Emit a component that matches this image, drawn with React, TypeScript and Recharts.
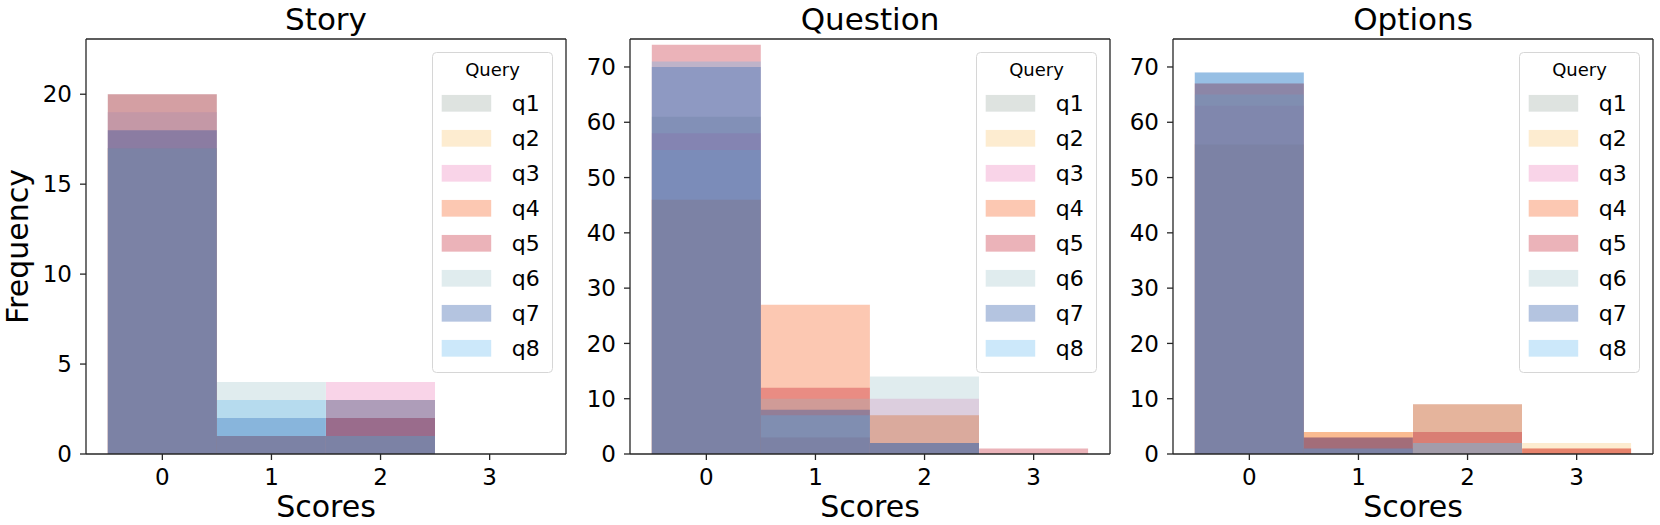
import React from 'react';
import { BarChart, Bar, XAxis, YAxis, Legend, Label } from 'recharts';

// ---------- data ----------
const scores = [0, 1, 2, 3];
const queries = ['q1', 'q2', 'q3', 'q4', 'q5', 'q6', 'q7', 'q8'];
const queryColors = ['#91a298', '#f8c062', '#eb70b2', '#f54800', '#bc0216', '#98c0c6', '#083a98', '#55b2ee'];
const panelTitles = ['Story', 'Question', 'Options'];

// counts per query (rows q1..q8) for scores 0..3
const storyCounts = [
  [20, 1, 2, 0],
  [17, 1, 3, 0],
  [19, 1, 4, 0],
  [17, 1, 1, 0],
  [20, 1, 2, 0],
  [19, 4, 1, 0],
  [18, 2, 3, 0],
  [17, 3, 1, 0],
];
const questionCounts = [
  [61, 3, 2, 0],
  [46, 3, 7, 0],
  [58, 3, 10, 0],
  [46, 27, 7, 0],
  [74, 12, 2, 1],
  [55, 10, 14, 0],
  [70, 8, 2, 0],
  [71, 7, 2, 0],
];
const optionsCounts = [
  [56, 1, 9, 0],
  [56, 4, 0, 2],
  [63, 1, 0, 0],
  [67, 4, 9, 1],
  [67, 3, 4, 1],
  [65, 1, 2, 0],
  [69, 3, 0, 0],
  [69, 1, 2, 0],
];
const storyTicks = [0, 5, 10, 15, 20];
const countTicks = [0, 10, 20, 30, 40, 50, 60, 70];
const storyMax = 23.07;
const countMax = 75.06;

// ---------- layout ----------
const TOP = 38;
const PLOT_W = 480;
const RIGHT = 3;
const PAD = 21.8;
const X_AXIS_H = 71;
const AXIS_COLOR = '#262626';
const ALPHA = 0.3;

function LegendBox() {
  return (
    <svg width={121} height={321} style={{ display: 'block' }}>
      <rect x={0.5} y={0.5} width={120} height={320} rx={4} ry={4} fill="#ffffff" fillOpacity={0.8} stroke="#d6d6d6" strokeWidth={1} />
      <text x={60.5} y={24} textAnchor="middle" fontSize={18} fill="#000">Query</text>
      {queries.map((q, i) => (
        <g key={q}>
          <rect x={9.7} y={42.95 + 35 * i} width={49.5} height={16.7} fill={queryColors[i]} fillOpacity={ALPHA} />
          <text x={79.7} y={59 + 35 * i} fontSize={22} fill="#000">{q}</text>
        </g>
      ))}
    </svg>
  );
}

type PanelProps = {
  title: string;
  counts: number[][];
  yMax: number;
  yTicks: number[];
  left: number;
  yAxisWidth: number;
  yLabel?: string;
};

function Panel({ title, counts, yMax, yTicks, left, yAxisWidth, yLabel }: PanelProps) {
  const data = scores.map((s, j) => {
    const row: Record<string, number | string> = { score: String(s) };
    queries.forEach((q, i) => {
      row[q] = counts[i][j];
    });
    return row;
  });
  const width = yAxisWidth + PLOT_W + 1 + RIGHT;
  return (
    <div style={{ position: 'absolute', left, top: 0 }}>
      <BarChart
        width={width}
        height={525}
        data={data}
        margin={{ top: TOP, right: RIGHT, bottom: 0, left: 0 }}
        barCategoryGap={0}
        barGap={0}
      >
        {queries.map((q, i) => (
          <XAxis
            key={'x' + i}
            xAxisId={'x' + i}
            dataKey="score"
            type="category"
            padding={{ left: PAD, right: PAD }}
            hide={i !== 0}
            height={X_AXIS_H}
            interval={0}
            tickSize={6}
            tickMargin={8.5}
            tick={{ fontSize: 23, fill: '#000' }}
            tickLine={{ stroke: AXIS_COLOR, strokeWidth: 1.3 }}
            axisLine={{ stroke: AXIS_COLOR, strokeWidth: 1.3 }}
          >
            {i === 0 ? (
              <Label
                content={(props: any) => {
                  const vb = props.viewBox || {};
                  return (
                    <text x={vb.x + vb.width / 2} y={vb.y + 63} textAnchor="middle" fontSize={30} fill="#000">
                      Scores
                    </text>
                  );
                }}
              />
            ) : null}
          </XAxis>
        ))}
        <XAxis
          xAxisId="top"
          orientation="top"
          dataKey="score"
          height={1}
          tick={false}
          tickLine={false}
          axisLine={{ stroke: AXIS_COLOR, strokeWidth: 1.3 }}
        >
          <Label
            content={(props: any) => {
              const vb = props.viewBox || {};
              return (
                <text x={vb.x + vb.width / 2} y={vb.y - 8.5} textAnchor="middle" fontSize={31} fill="#000">
                  {title}
                </text>
              );
            }}
          />
        </XAxis>
        <YAxis
          type="number"
          domain={[0, yMax]}
          ticks={yTicks}
          interval={0}
          width={yAxisWidth}
          tickSize={6}
          tickMargin={8}
          tick={{ fontSize: 23, fill: '#000' }}
          tickLine={{ stroke: AXIS_COLOR, strokeWidth: 1.3 }}
          axisLine={{ stroke: AXIS_COLOR, strokeWidth: 1.3 }}
        >
          {yLabel ? (
            <Label
              content={(props: any) => {
                const vb = props.viewBox || {};
                const cx = vb.x + 28;
                const cy = vb.y + vb.height / 2;
                return (
                  <text x={cx} y={cy} transform={`rotate(-90, ${cx}, ${cy})`} textAnchor="middle" fontSize={30} fill="#000">
                    {yLabel}
                  </text>
                );
              }}
            />
          ) : null}
        </YAxis>
        <YAxis
          yAxisId="right"
          orientation="right"
          width={1}
          tick={false}
          tickLine={false}
          axisLine={{ stroke: AXIS_COLOR, strokeWidth: 1.3 }}
        />
        {queries.map((q, i) => (
          <Bar
            key={q}
            xAxisId={'x' + i}
            dataKey={q}
            name={q}
            fill={queryColors[i]}
            fillOpacity={ALPHA}
            isAnimationActive={false}
          />
        ))}
        <Legend
          layout="vertical"
          align="center"
          verticalAlign="middle"
          wrapperStyle={{ left: yAxisWidth + 346, top: 52, width: 121, height: 321 }}
          content={() => <LegendBox />}
        />
      </BarChart>
    </div>
  );
}

export default function App() {
  return (
    <div
      style={{
        position: 'absolute',
        left: 0,
        top: 0,
        width: 1660,
        height: 525,
        background: '#fff',
        fontFamily: '"DejaVu Sans", sans-serif',
        overflow: 'hidden',
      }}
    >
      <Panel title={panelTitles[0]} counts={storyCounts} yMax={storyMax} yTicks={storyTicks} left={0} yAxisWidth={86} yLabel="Frequency" />
      <Panel title={panelTitles[1]} counts={questionCounts} yMax={countMax} yTicks={countTicks} left={570} yAxisWidth={60} />
      <Panel title={panelTitles[2]} counts={optionsCounts} yMax={countMax} yTicks={countTicks} left={1112.7} yAxisWidth={60} />
    </div>
  );
}
